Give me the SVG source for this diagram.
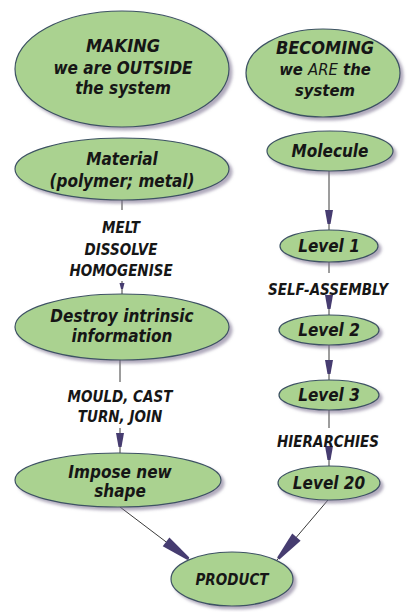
<svg xmlns="http://www.w3.org/2000/svg" width="408" height="612" viewBox="0 0 408 612">
<style>
.n{fill:#aad290;stroke:#3d5263;stroke-width:1.2;filter:url(#sh)}
.t{font-family:"DejaVu Sans Condensed","DejaVu Sans",sans-serif;font-stretch:condensed;font-weight:bold;font-style:italic;fill:#161616;text-anchor:middle}
.h{font-size:18px}
.m{font-size:17px}
.s{font-size:16.5px}
.l{font-size:15px}
.c{stroke:#3a3a3a;stroke-width:1;fill:none}
</style>
<defs>
<filter id="sh" x="-20%" y="-20%" width="140%" height="150%">
<feDropShadow dx="3" dy="3" stdDeviation="1.8" flood-color="#7d7390" flood-opacity="0.6"/>
</filter>
<marker id="arr" markerUnits="userSpaceOnUse" viewBox="-30 -6 30 12" markerWidth="30" markerHeight="12" refX="0" refY="0" orient="auto">
<path d="M-20,-4 L-6,-1.5 L-6,1.5 L-20,4 Z" fill="#463c70"/>
</marker>
<marker id="arrS" markerUnits="userSpaceOnUse" viewBox="-30 -6 30 12" markerWidth="30" markerHeight="12" refX="0" refY="0" orient="auto">
<path d="M-11,-2.5 L-5,-1 L-5,1 L-11,2.5 Z" fill="#463c70"/>
</marker>
<marker id="arrL" markerUnits="userSpaceOnUse" viewBox="-34 -7 34 14" markerWidth="34" markerHeight="14" refX="0" refY="0" orient="auto">
<path d="M-30,-5.5 L-2,-1.5 L-2,1.5 L-30,5.5 Z" fill="#463c70"/>
</marker>
</defs>
<rect width="408" height="612" fill="#ffffff"/>
<g id="connectors">
<line class="c" x1="122" y1="200" x2="122" y2="210"/>
<line class="c" x1="122" y1="281" x2="122" y2="294" marker-end="url(#arrS)"/>
<line class="c" x1="120" y1="360" x2="120" y2="382"/>
<line class="c" x1="120" y1="428" x2="120" y2="453" marker-end="url(#arr)"/>
<line class="c" x1="329" y1="171" x2="329" y2="230" marker-end="url(#arr)"/>
<line class="c" x1="329" y1="262" x2="329" y2="273"/>
<line class="c" x1="329" y1="300" x2="329" y2="315" marker-end="url(#arr)"/>
<line class="c" x1="329" y1="345" x2="329" y2="380" marker-end="url(#arr)"/>
<line class="c" x1="329" y1="410" x2="329" y2="428"/>
<line class="c" x1="329" y1="452" x2="329" y2="466" marker-end="url(#arr)"/>
<line class="c" x1="120" y1="507" x2="190" y2="560" marker-end="url(#arrL)"/>
<line class="c" x1="328" y1="500" x2="277" y2="560" marker-end="url(#arrL)"/>
<text class="t l" x="121" y="233">MELT</text>
<text class="t l" x="121" y="255">DISSOLVE</text>
<text class="t l" x="121" y="276">HOMOGENISE</text>
<text class="t l" x="120" y="402">MOULD, CAST</text>
<text class="t l" x="120" y="422">TURN, JOIN</text>
<text class="t l" x="328" y="295">SELF-ASSEMBLY</text>
<text class="t l" x="328" y="447">HIERARCHIES</text>
</g>
<g id="making">
<ellipse class="n" cx="122" cy="69" rx="107" ry="58"/>
<text class="t h" x="123" y="52">MAKING</text>
<text class="t m" x="123" y="74">we are OUTSIDE</text>
<text class="t m" x="123" y="94">the system</text>
</g>
<g id="becoming">
<ellipse class="n" cx="323" cy="73" rx="77" ry="44"/>
<text class="t h" x="325" y="54" font-style="normal">BECOMING</text>
<text class="t s" x="325" y="75">we <tspan font-weight="normal">ARE</tspan> the</text>
<text class="t s" x="325" y="96">system</text>
</g>
<g id="material">
<ellipse class="n" cx="122" cy="169" rx="107" ry="31"/>
<text class="t m" x="122" y="165">Material</text>
<text class="t m" x="122" y="187">(polymer; metal)</text>
</g>
<g id="molecule">
<ellipse class="n" cx="330" cy="151" rx="63" ry="20"/>
<text class="t m" x="330" y="157">Molecule</text>
</g>
<g id="level1">
<ellipse class="n" cx="329" cy="246" rx="49" ry="16"/>
<text class="t m" x="329" y="252">Level 1</text>
</g>
<g id="destroy">
<ellipse class="n" cx="122" cy="327" rx="107" ry="33"/>
<text class="t m" x="122" y="322">Destroy intrinsic</text>
<text class="t m" x="122" y="342">information</text>
</g>
<g id="level2">
<ellipse class="n" cx="329" cy="330" rx="50" ry="15"/>
<text class="t m" x="329" y="336">Level 2</text>
</g>
<g id="level3">
<ellipse class="n" cx="329" cy="395" rx="50" ry="15"/>
<text class="t m" x="329" y="401">Level 3</text>
</g>
<g id="impose">
<ellipse class="n" cx="118" cy="480" rx="103" ry="27"/>
<text class="t m" x="120" y="478">Impose new</text>
<text class="t m" x="120" y="497">shape</text>
</g>
<g id="level20">
<ellipse class="n" cx="329" cy="483" rx="51" ry="17"/>
<text class="t m" x="329" y="489">Level 20</text>
</g>
<g id="product">
<ellipse class="n" cx="232" cy="579" rx="61" ry="27"/>
<text class="t l" x="232" y="585">PRODUCT</text>
</g>
</svg>
